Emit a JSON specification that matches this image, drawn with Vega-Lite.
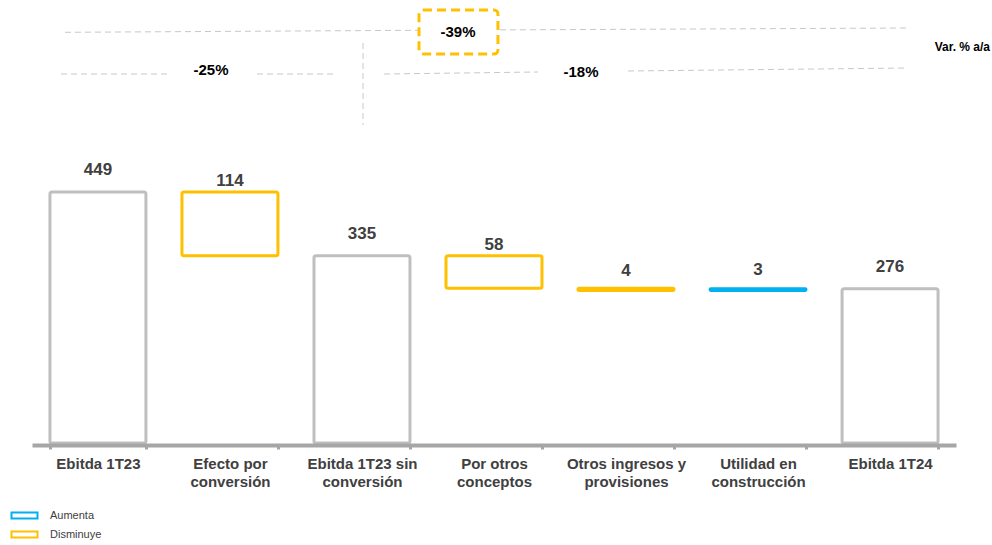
{
  "$schema": "https://vega.github.io/schema/vega-lite/v6.json",
  "width": 924,
  "height": 443,
  "autosize": "none",
  "padding": {"left": 32, "top": 0, "right": 36, "bottom": 102},
  "background": "white",
  "config": {"view": {"stroke": null}, "font": "Liberation Sans"},
  "datasets": {
    "bars": [
      {"category": "Ebitda 1T23", "start": 0, "end": 449, "type": "Total", "label": 449},
      {"category": "Efecto por|conversión", "start": 449, "end": 335, "type": "Disminuye", "label": 114},
      {"category": "Ebitda 1T23 sin|conversión", "start": 0, "end": 335, "type": "Total", "label": 335},
      {"category": "Por otros|conceptos", "start": 335, "end": 277, "type": "Disminuye", "label": 58},
      {"category": "Otros ingresos y|provisiones", "start": 277, "end": 273, "type": "Disminuye", "label": 4},
      {"category": "Utilidad en|construcción", "start": 273, "end": 276, "type": "Aumenta", "label": 3},
      {"category": "Ebitda 1T24", "start": 0, "end": 276, "type": "Total", "label": 276}
    ],
    "lines": [
      {"x": 0.25, "x2": 2.924, "y": 734.7, "y2": 738.3},
      {"x": 3.545, "x2": 6.652, "y": 739.0, "y2": 742.4},
      {"x": 0.22, "x2": 1.045, "y": 660.1, "y2": 660.1},
      {"x": 1.705, "x2": 2.295, "y": 660.1, "y2": 660.1},
      {"x": 2.667, "x2": 3.833, "y": 660.1, "y2": 663.7},
      {"x": 4.515, "x2": 6.636, "y": 665.5, "y2": 670.8},
      {"x": 2.508, "x2": 2.508, "y": 715.6, "y2": 568.9}
    ],
    "box": [
      {"x": 2.932, "x2": 3.53, "y": 774.6, "y2": 695.9}
    ],
    "notes": [
      {"x": 3.227, "y": 735.2, "text": "-39%", "kind": "pct"},
      {"x": 1.356, "y": 667.3, "text": "-25%", "kind": "pct"},
      {"x": 4.159, "y": 663.7, "text": "-18%", "kind": "pct"},
      {"x": 7.258, "y": 708.4, "text": "Var. % a/a", "kind": "title"}
    ]
  },
  "resolve": {"scale": {"x": "independent"}},
  "layer": [
    {
      "data": {"name": "bars"},
      "encoding": {
        "x": {
          "field": "category",
          "type": "nominal",
          "sort": null,
          "scale": {"paddingInner": 0.273, "paddingOuter": 0.136},
          "axis": {
            "title": null,
            "labelAngle": 0,
            "labelExpr": "split(datum.label, '|')",
            "labelFontSize": 15,
            "labelFontWeight": "bold",
            "labelColor": "#404040",
            "labelLineHeight": 18,
            "labelPadding": 7,
            "labelBaseline": "top",
            "domainColor": "#A6A6A6",
            "domainWidth": 4,
            "tickColor": "#A6A6A6",
            "tickWidth": 3,
            "tickSize": 4,
            "tickBand": "extent",
            "offset": 2
          }
        }
      },
      "layer": [
        {
          "mark": {"type": "rect", "fill": "white", "strokeWidth": 3, "cornerRadius": 2},
          "encoding": {
            "y": {"field": "start", "type": "quantitative", "scale": {"domain": [0, 792.5], "nice": false, "zero": true}, "axis": null},
            "y2": {"field": "end"},
            "stroke": {
              "field": "type",
              "type": "nominal",
              "scale": {"domain": ["Aumenta", "Disminuye", "Total"], "range": ["#00B0F0", "#FFC000", "#BFBFBF"]},
              "legend": {
                "values": ["Aumenta", "Disminuye"],
                "title": null,
                "orient": "none",
                "legendX": -13,
                "legendY": 510,
                "symbolType": "M-3.25,-0.75 L3.25,-0.75 L3.25,0.75 L-3.25,0.75 Z",
                "symbolSize": 64,
                "symbolStrokeWidth": 2,
                "symbolFillColor": "white",
                "labelOffset": 20,
                "labelFont": "Liberation Sans",
                "labelFontSize": 11,
                "labelColor": "#404040",
                "rowPadding": 4
              }
            }
          }
        },
        {
          "transform": [{"filter": "datum.type == 'Total'"}],
          "mark": {"type": "text", "fontSize": 17, "fontWeight": "bold", "color": "#404040", "baseline": "middle", "dy": -22},
          "encoding": {
            "y": {"field": "end", "type": "quantitative"},
            "text": {"field": "label"}
          }
        },
        {
          "transform": [{"filter": "datum.type != 'Total' && datum.label >= 10"}],
          "mark": {"type": "text", "fontSize": 17, "fontWeight": "bold", "color": "#404040", "baseline": "middle", "dy": -11},
          "encoding": {
            "y": {"field": "start", "type": "quantitative"},
            "text": {"field": "label"}
          }
        },
        {
          "transform": [{"filter": "datum.type != 'Total' && datum.label < 10"}],
          "mark": {"type": "text", "fontSize": 17, "fontWeight": "bold", "color": "#404040", "baseline": "middle", "dy": -19},
          "encoding": {
            "y": {"field": "end", "type": "quantitative"},
            "text": {"field": "label"}
          }
        }
      ]
    },
    {
      "encoding": {},
      "layer": [
        {
          "data": {"name": "lines"},
          "mark": {"type": "rule", "color": "#C8C8C8", "strokeWidth": 1, "strokeDash": [6, 4]},
          "encoding": {
            "x": {"field": "x", "type": "quantitative", "scale": {"domain": [0, 7], "nice": false, "zero": false}, "axis": null},
            "x2": {"field": "x2"},
            "y": {"field": "y", "type": "quantitative"},
            "y2": {"field": "y2"}
          }
        },
        {
          "data": {"name": "box"},
          "mark": {"type": "rect", "fill": "white", "stroke": "#FFC000", "strokeWidth": 3, "strokeDash": [9, 5], "cornerRadius": 4},
          "encoding": {
            "x": {"field": "x", "type": "quantitative", "scale": {"domain": [0, 7], "nice": false, "zero": false}, "axis": null},
            "x2": {"field": "x2"},
            "y": {"field": "y", "type": "quantitative"},
            "y2": {"field": "y2"}
          }
        },
        {
          "data": {"name": "notes"},
          "transform": [{"filter": "datum.kind == 'pct'"}],
          "mark": {"type": "text", "fontSize": 15, "fontWeight": "bold", "color": "#000000", "baseline": "middle", "align": "center"},
          "encoding": {
            "x": {"field": "x", "type": "quantitative", "scale": {"domain": [0, 7], "nice": false, "zero": false}, "axis": null},
            "y": {"field": "y", "type": "quantitative"},
            "text": {"field": "text"}
          }
        },
        {
          "data": {"name": "notes"},
          "transform": [{"filter": "datum.kind == 'title'"}],
          "mark": {"type": "text", "fontSize": 12, "fontWeight": "bold", "color": "#000000", "baseline": "middle", "align": "right"},
          "encoding": {
            "x": {"field": "x", "type": "quantitative", "scale": {"domain": [0, 7], "nice": false, "zero": false}, "axis": null},
            "y": {"field": "y", "type": "quantitative"},
            "text": {"field": "text"}
          }
        }
      ]
    }
  ]
}
